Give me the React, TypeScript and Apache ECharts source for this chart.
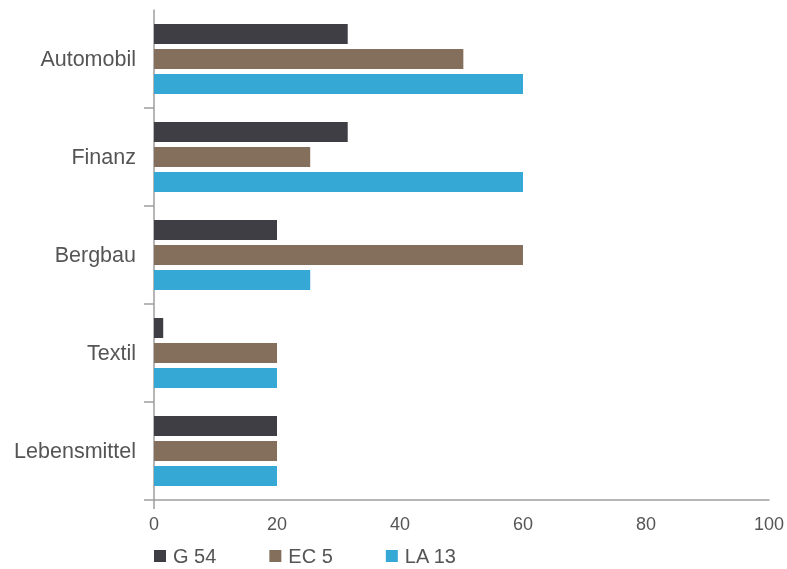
import React, { useEffect, useRef } from "react";
import * as echarts from "echarts";

const categories = ["Automobil", "Finanz", "Bergbau", "Textil", "Lebensmittel"];
const seriesNames = ["G 54", "EC 5", "LA 13"];
const g54 = [31.5, 31.5, 20, 1.5, 20];
const ec5 = [50.3, 25.4, 60, 20, 20];
const la13 = [60, 60, 25.4, 20, 20];
const xTicks = { min: 0, max: 100, interval: 20 };
const colors = ["#3f3e44", "#836f5b", "#36a8d6"];

export default function App() {
  const ref = useRef<HTMLDivElement>(null);
  useEffect(() => {
    if (!ref.current) return;
    const chart = echarts.init(ref.current, undefined, { renderer: "svg" });
    const font = "'Liberation Sans', Arial, Helvetica, sans-serif";
    const values = [g54, ec5, la13];
    chart.setOption({
      animation: false,
      textStyle: { fontFamily: font },
      grid: { left: 154, right: 15, top: 10, height: 490, containLabel: false },
      legend: {
        left: 149,
        top: 541,
        icon: "rect",
        itemWidth: 12,
        itemHeight: 12,
        itemGap: 53,
        textStyle: { fontSize: 20, color: "#555555", fontFamily: font, padding: [0, 0, 0, 2] },
        data: seriesNames,
      },
      xAxis: {
        type: "value",
        min: xTicks.min,
        max: xTicks.max,
        interval: xTicks.interval,
        axisLine: { show: true, lineStyle: { color: "#9e9e9e", width: 1.5 } },
        axisTick: { show: true, customValues: [0], length: 9, lineStyle: { color: "#9e9e9e", width: 1.5 } },
        splitLine: { show: false },
        axisLabel: { fontSize: 18, color: "#555555", margin: 15, fontFamily: font },
      },
      yAxis: {
        type: "category",
        inverse: true,
        data: categories,
        axisLine: { show: true, lineStyle: { color: "#9e9e9e", width: 1.5 } },
        axisTick: {
          show: true,
          length: 10,
          interval: (i: number) => i !== 0,
          lineStyle: { color: "#9e9e9e", width: 1.5 },
        },
        axisLabel: { fontSize: 21.5, color: "#555555", margin: 18, fontFamily: font },
      },
      series: seriesNames.map((name, i) => ({
        name,
        type: "bar",
        data: values[i],
        barWidth: 20,
        barGap: "25%",
        itemStyle: { color: colors[i] },
      })),
    });
    return () => chart.dispose();
  }, []);
  return (
    <div
      ref={ref}
      style={{ position: "fixed", left: 0, top: 0, width: 787, height: 569 }}
    />
  );
}
